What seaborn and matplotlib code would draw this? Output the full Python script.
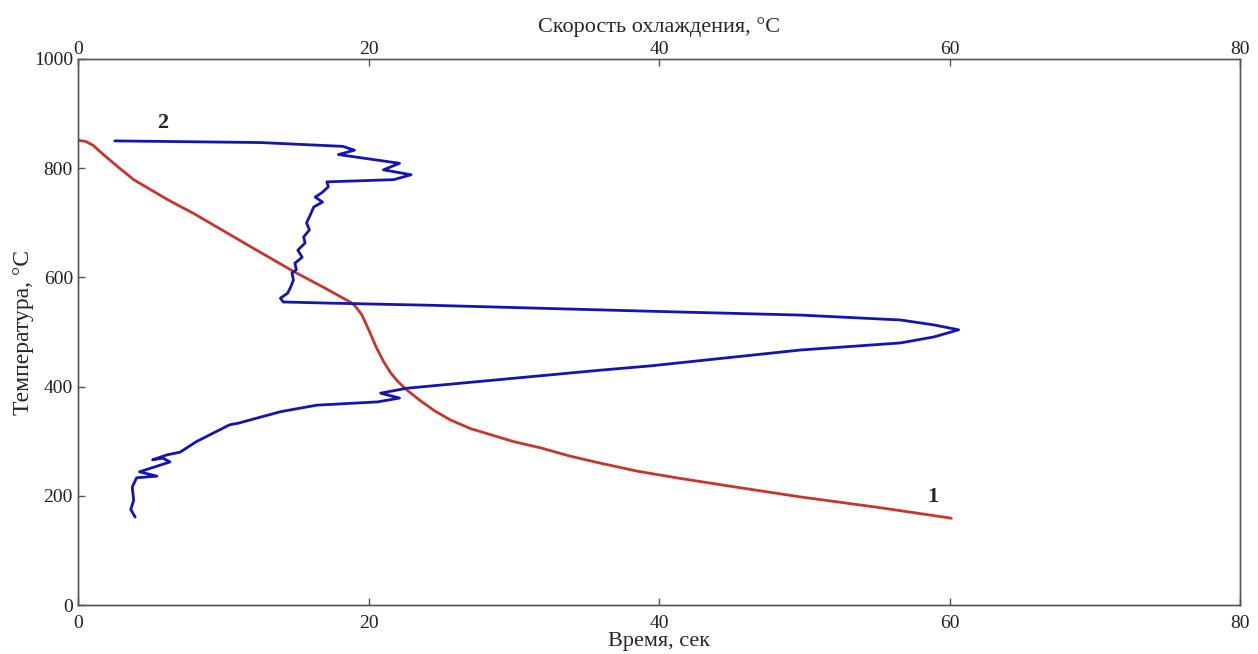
import numpy as np
import pandas as pd
import matplotlib
matplotlib.use("Agg")
import matplotlib.pyplot as plt
import seaborn as sns

# Curve 1: temperature vs time
time_s = [0.0, 0.5, 1.0, 1.5, 2.6, 3.8, 6.1, 8.0, 10.0, 12.0, 14.8, 17.0, 18.7, 19.0,
          19.5, 20.0, 20.5, 21.0, 21.5, 22.0, 22.6, 23.5, 24.5, 25.6, 27.0, 28.5, 30.0,
          31.8, 33.8, 35.9, 38.5, 41.4, 45.5, 49.7, 55.0, 60.1]
temp1 = [851, 849, 842, 830, 805, 779, 743, 716, 685, 654, 611, 580, 555, 549,
         532, 503, 472, 446, 425, 409, 394, 375, 356, 339, 323, 311, 299,
         288, 273, 260, 245, 232, 215, 198, 179, 159]

# Curve 2: temperature vs cooling rate
rate = [2.5, 12.5, 18.2, 19.0, 17.9, 22.1, 21.0, 22.9, 21.7, 17.1, 17.2, 16.8, 16.3, 16.8,
        16.2, 15.9, 15.7, 15.9, 15.5, 15.6, 15.1, 15.4, 14.9, 15.0, 14.7, 14.8, 14.6, 14.4,
        13.9, 14.1, 17.1, 24.2, 39.4, 49.7, 56.6, 58.9, 60.6, 58.9, 56.6, 49.7, 39.4,
        35.9, 22.6, 20.8, 22.1, 20.6, 16.4, 13.9, 11.0, 10.4, 8.1, 7.0, 6.1, 5.1, 5.8,
        6.3, 4.2, 5.4, 4.0, 3.7, 3.8, 3.6, 3.9]
temp2 = [850, 847, 840, 833, 825, 809, 797, 788, 779, 775, 766, 756, 747, 738,
         729, 711, 700, 687, 674, 663, 650, 637, 626, 614, 608, 595, 582, 571,
         562, 555, 553, 549, 538, 531, 522, 513, 504, 491, 480, 467, 438,
         430, 397, 388, 379, 372, 366, 354, 333, 330, 299, 280, 275, 266, 269,
         262, 244, 236, 233, 216, 192, 175, 161]

xticks = [0, 20, 40, 60, 80]
yticks = [0, 200, 400, 600, 800, 1000]

sns.set_theme(style="white")
plt.rcParams["font.family"] = ["Liberation Serif", "DejaVu Serif"]

fig = plt.figure(figsize=(12.58, 6.54), dpi=100)
ax = fig.add_axes([0.0624, 0.0749, 0.9236, 0.8349])

df1 = pd.DataFrame({"t": time_s, "T": temp1})
df2 = pd.DataFrame({"r": rate, "T": temp2})

sns.lineplot(data=df1, x="t", y="T", ax=ax, color="#c8352c", linewidth=2.0,
             sort=False, estimator=None)
ax.set_xlim(0, 80)
ax.set_ylim(0, 1000)
ax.set_xticks(xticks)
ax.set_yticks(yticks)
ax.set_xlabel("Время, сек", fontsize=16, labelpad=0)
ax.set_ylabel("Температура, °C", fontsize=17, labelpad=0)

ax2 = ax.twiny()
sns.lineplot(data=df2, x="r", y="T", ax=ax2, color="#1414b4", linewidth=2.0,
             sort=False, estimator=None)
ax2.set_xlim(0, 80)
ax2.set_xticks(xticks)
ax2.set_xlabel("Скорость охлаждения, °C", fontsize=16, labelpad=6)
ax2.set_ylabel("")

for a in (ax, ax2):
    for s in a.spines.values():
        s.set_color("#555555")
        s.set_linewidth(1.0)
    a.tick_params(direction="in", length=5, width=1, color="#555555",
                  labelsize=14, labelcolor="#222222", pad=4)
ax.tick_params(axis="x", bottom=True, top=False, pad=7)
ax.tick_params(axis="y", left=True, pad=4)
ax2.tick_params(axis="x", top=True, bottom=False, pad=1)

ax.text(58.8, 198, "1", fontsize=16, fontweight="bold", ha="center", va="center")
ax.text(5.8, 883, "2", fontsize=16, fontweight="bold", ha="center", va="center")

fig.savefig("out.png", dpi=100, facecolor="white")
